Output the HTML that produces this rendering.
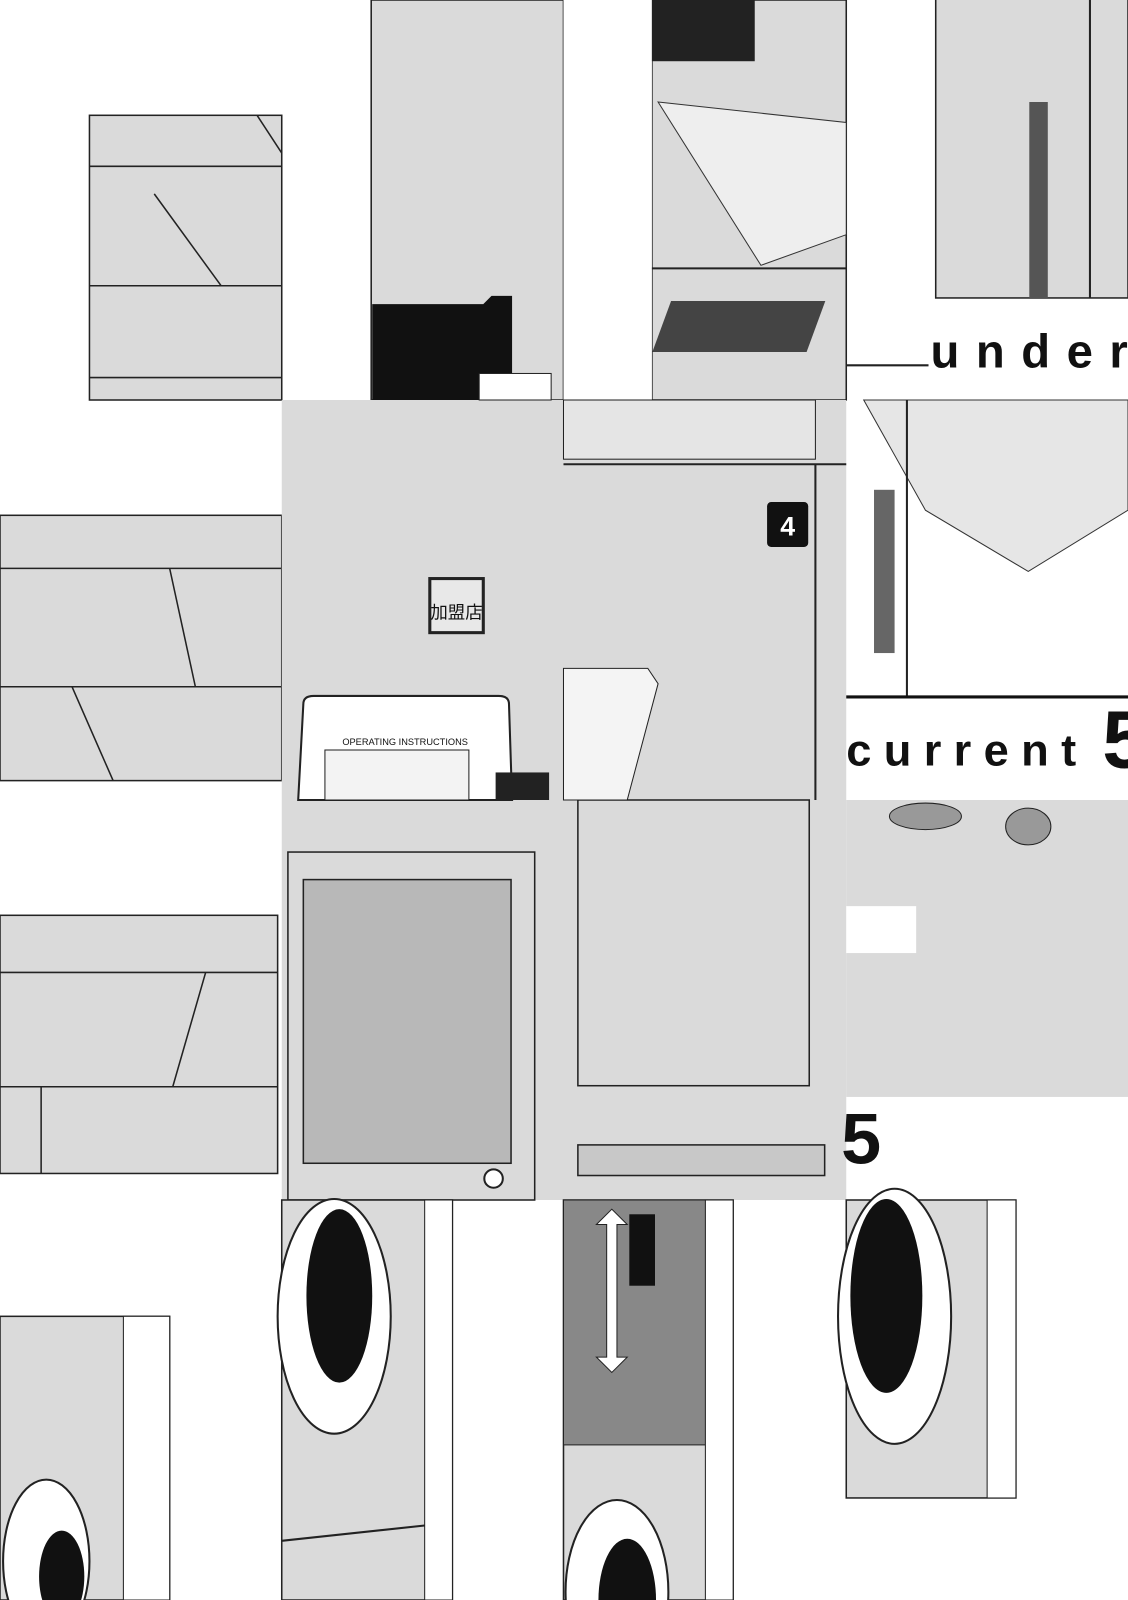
<!DOCTYPE html>
<html><head><meta charset="utf-8"><style>
html,body{margin:0;padding:0;background:#fff;width:1128px;height:1600px;overflow:hidden}
svg{display:block;overflow:hidden;position:absolute;left:0;top:0}
</style></head><body>
<svg width="1128" height="1600" viewBox="0 0 1097 1568" preserveAspectRatio="none" xmlns="http://www.w3.org/2000/svg" font-family="Liberation Sans, Noto Sans CJK JP, sans-serif">
<rect width="1097" height="1568" fill="#fff"/>
<g fill="#dadada" stroke="#222" stroke-width="1.5">
<rect x="87" y="113" width="187" height="279"/>
<line x1="87" y1="163" x2="274" y2="163"/><line x1="87" y1="280" x2="274" y2="280"/><line x1="87" y1="370" x2="274" y2="370"/>
<line x1="150" y1="190" x2="215" y2="280"/><line x1="250" y1="113" x2="274" y2="150"/>
<rect x="361" y="0" width="187" height="392"/>
<rect x="634" y="0" width="189" height="392"/>
<rect x="910" y="-2" width="187" height="294"/>
<rect x="0" y="505" width="274" height="260"/>
<line x1="0" y1="557" x2="274" y2="557"/><line x1="0" y1="673" x2="274" y2="673"/><line x1="165" y1="557" x2="190" y2="673"/><line x1="70" y1="673" x2="110" y2="765"/>
<rect x="274" y="392" width="274" height="392" stroke="none"/>
<rect x="548" y="392" width="275" height="392" stroke="none"/>
<rect x="0" y="897" width="270" height="253"/>
<line x1="0" y1="953" x2="270" y2="953"/><line x1="0" y1="1065" x2="270" y2="1065"/><line x1="200" y1="953" x2="168" y2="1065"/><line x1="40" y1="1065" x2="40" y2="1150"/>
<rect x="274" y="784" width="274" height="392" stroke="none"/>
<rect x="280" y="835" width="240" height="341"/>
<rect x="295" y="862" width="202" height="278" fill="#b8b8b8"/>
<rect x="548" y="784" width="275" height="392" stroke="none"/>
<rect x="562" y="784" width="225" height="280"/>
<rect x="562" y="1122" width="240" height="30" fill="#c8c8c8"/>
<rect x="823" y="784" width="274" height="291" stroke="none"/>
<rect x="0" y="1290" width="165" height="278"/>
<rect x="274" y="1176" width="166" height="392"/>
<rect x="548" y="1176" width="165" height="392"/>
<rect x="823" y="1176" width="165" height="292"/>
</g>
<path d="M362 298 L470 298 L478 290 L498 290 L498 392 L362 392 Z" fill="#111"/>
<rect x="466" y="366" width="70" height="26" fill="#fff" stroke="#222"/>
<rect x="548" y="0" width="86" height="392" fill="#fff"/>
<rect x="634" y="0" width="100" height="60" fill="#222"/>
<path d="M640 100 L740 260 L823 230 L823 120 Z" fill="#eee" stroke="#333"/>
<line x1="634" y1="263" x2="823" y2="263" stroke="#222" stroke-width="2"/>
<rect x="640" y="295" width="150" height="50" fill="#444" transform="skewX(-20) translate(120 0)"/>
<line x1="1010" y1="100" x2="1010" y2="292" stroke="#555" stroke-width="18"/>
<line x1="1060" y1="0" x2="1060" y2="292" stroke="#222" stroke-width="2"/>
<text x="905" y="360" font-size="46" font-weight="bold" letter-spacing="16" fill="#111">underc</text>
<line x1="823" y1="358" x2="903" y2="358" stroke="#222" stroke-width="2"/>
<rect x="418" y="567" width="52" height="53" fill="#e8e8e8" stroke="#222" stroke-width="3"/>
<text x="444" y="606" font-size="17" text-anchor="middle" fill="#111">加盟店</text>
<path d="M290 784 L295 690 Q295 682 305 682 L485 682 Q495 682 495 690 L498 784 Z" fill="#fff" stroke="#222" stroke-width="2"/>
<text x="394" y="730" font-size="9" text-anchor="middle" fill="#111">OPERATING INSTRUCTIONS</text>
<rect x="316" y="735" width="140" height="49" fill="#f3f3f3" stroke="#222"/>
<rect x="482" y="757" width="52" height="27" fill="#222"/>
<rect x="746" y="492" width="40" height="44" fill="#111" rx="4"/>
<text x="766" y="525" font-size="26" font-weight="bold" fill="#fff" text-anchor="middle">4</text>
<line x1="548" y1="455" x2="823" y2="455" stroke="#222" stroke-width="2"/>
<line x1="793" y1="455" x2="793" y2="784" stroke="#222" stroke-width="2"/>
<path d="M548 655 L630 655 L640 670 L610 784 L548 784 Z" fill="#f4f4f4" stroke="#222"/>
<rect x="548" y="392" width="245" height="58" fill="#e5e5e5" stroke="#222"/>
<path d="M840 392 L1097 392 L1097 500 L1000 560 L900 500 Z" fill="#e6e6e6" stroke="#333"/>
<rect x="850" y="480" width="20" height="160" fill="#666"/>
<line x1="882" y1="392" x2="882" y2="683" stroke="#222" stroke-width="2"/>
<line x1="823" y1="683" x2="1097" y2="683" stroke="#111" stroke-width="3"/>
<text x="823" y="750" font-size="44" font-weight="bold" letter-spacing="12" fill="#111">current</text>
<text x="1072" y="752" font-size="80" font-weight="bold" fill="#111">5</text>
<text x="818" y="1140" font-size="70" font-weight="bold" fill="#111">5</text>
<circle cx="480" cy="1155" r="9" fill="#fff" stroke="#222" stroke-width="2"/>
<rect x="823" y="888" width="68" height="46" fill="#fff"/>
<ellipse cx="900" cy="800" rx="35" ry="13" fill="#999" stroke="#222"/>
<ellipse cx="1000" cy="810" rx="22" ry="18" fill="#999" stroke="#222"/>
<ellipse cx="45" cy="1530" rx="42" ry="80" fill="#fff" stroke="#222" stroke-width="2"/>
<ellipse cx="60" cy="1545" rx="22" ry="45" fill="#111"/>
<rect x="120" y="1290" width="45" height="278" fill="#fff" stroke="#222"/>
<ellipse cx="325" cy="1290" rx="55" ry="115" fill="#fff" stroke="#222" stroke-width="2"/>
<ellipse cx="330" cy="1270" rx="32" ry="85" fill="#111"/>
<rect x="413" y="1176" width="27" height="392" fill="#fff" stroke="#222"/>
<line x1="274" y1="1510" x2="413" y2="1495" stroke="#222" stroke-width="2"/>
<rect x="548" y="1176" width="140" height="240" fill="#888" stroke="#222"/>
<rect x="612" y="1190" width="25" height="70" fill="#111"/>
<path d="M580 1200 L595 1185 L610 1200 L600 1200 L600 1330 L610 1330 L595 1345 L580 1330 L590 1330 L590 1200 Z" fill="#fff" stroke="#222"/>
<rect x="686" y="1176" width="27" height="392" fill="#fff" stroke="#222"/>
<ellipse cx="600" cy="1560" rx="50" ry="90" fill="#fff" stroke="#222" stroke-width="2"/>
<ellipse cx="610" cy="1568" rx="28" ry="60" fill="#111"/>
<ellipse cx="870" cy="1290" rx="55" ry="125" fill="#fff" stroke="#222" stroke-width="2"/>
<ellipse cx="862" cy="1270" rx="35" ry="95" fill="#111"/>
<rect x="960" y="1176" width="28" height="292" fill="#fff" stroke="#222"/>
</svg>
</body></html>
